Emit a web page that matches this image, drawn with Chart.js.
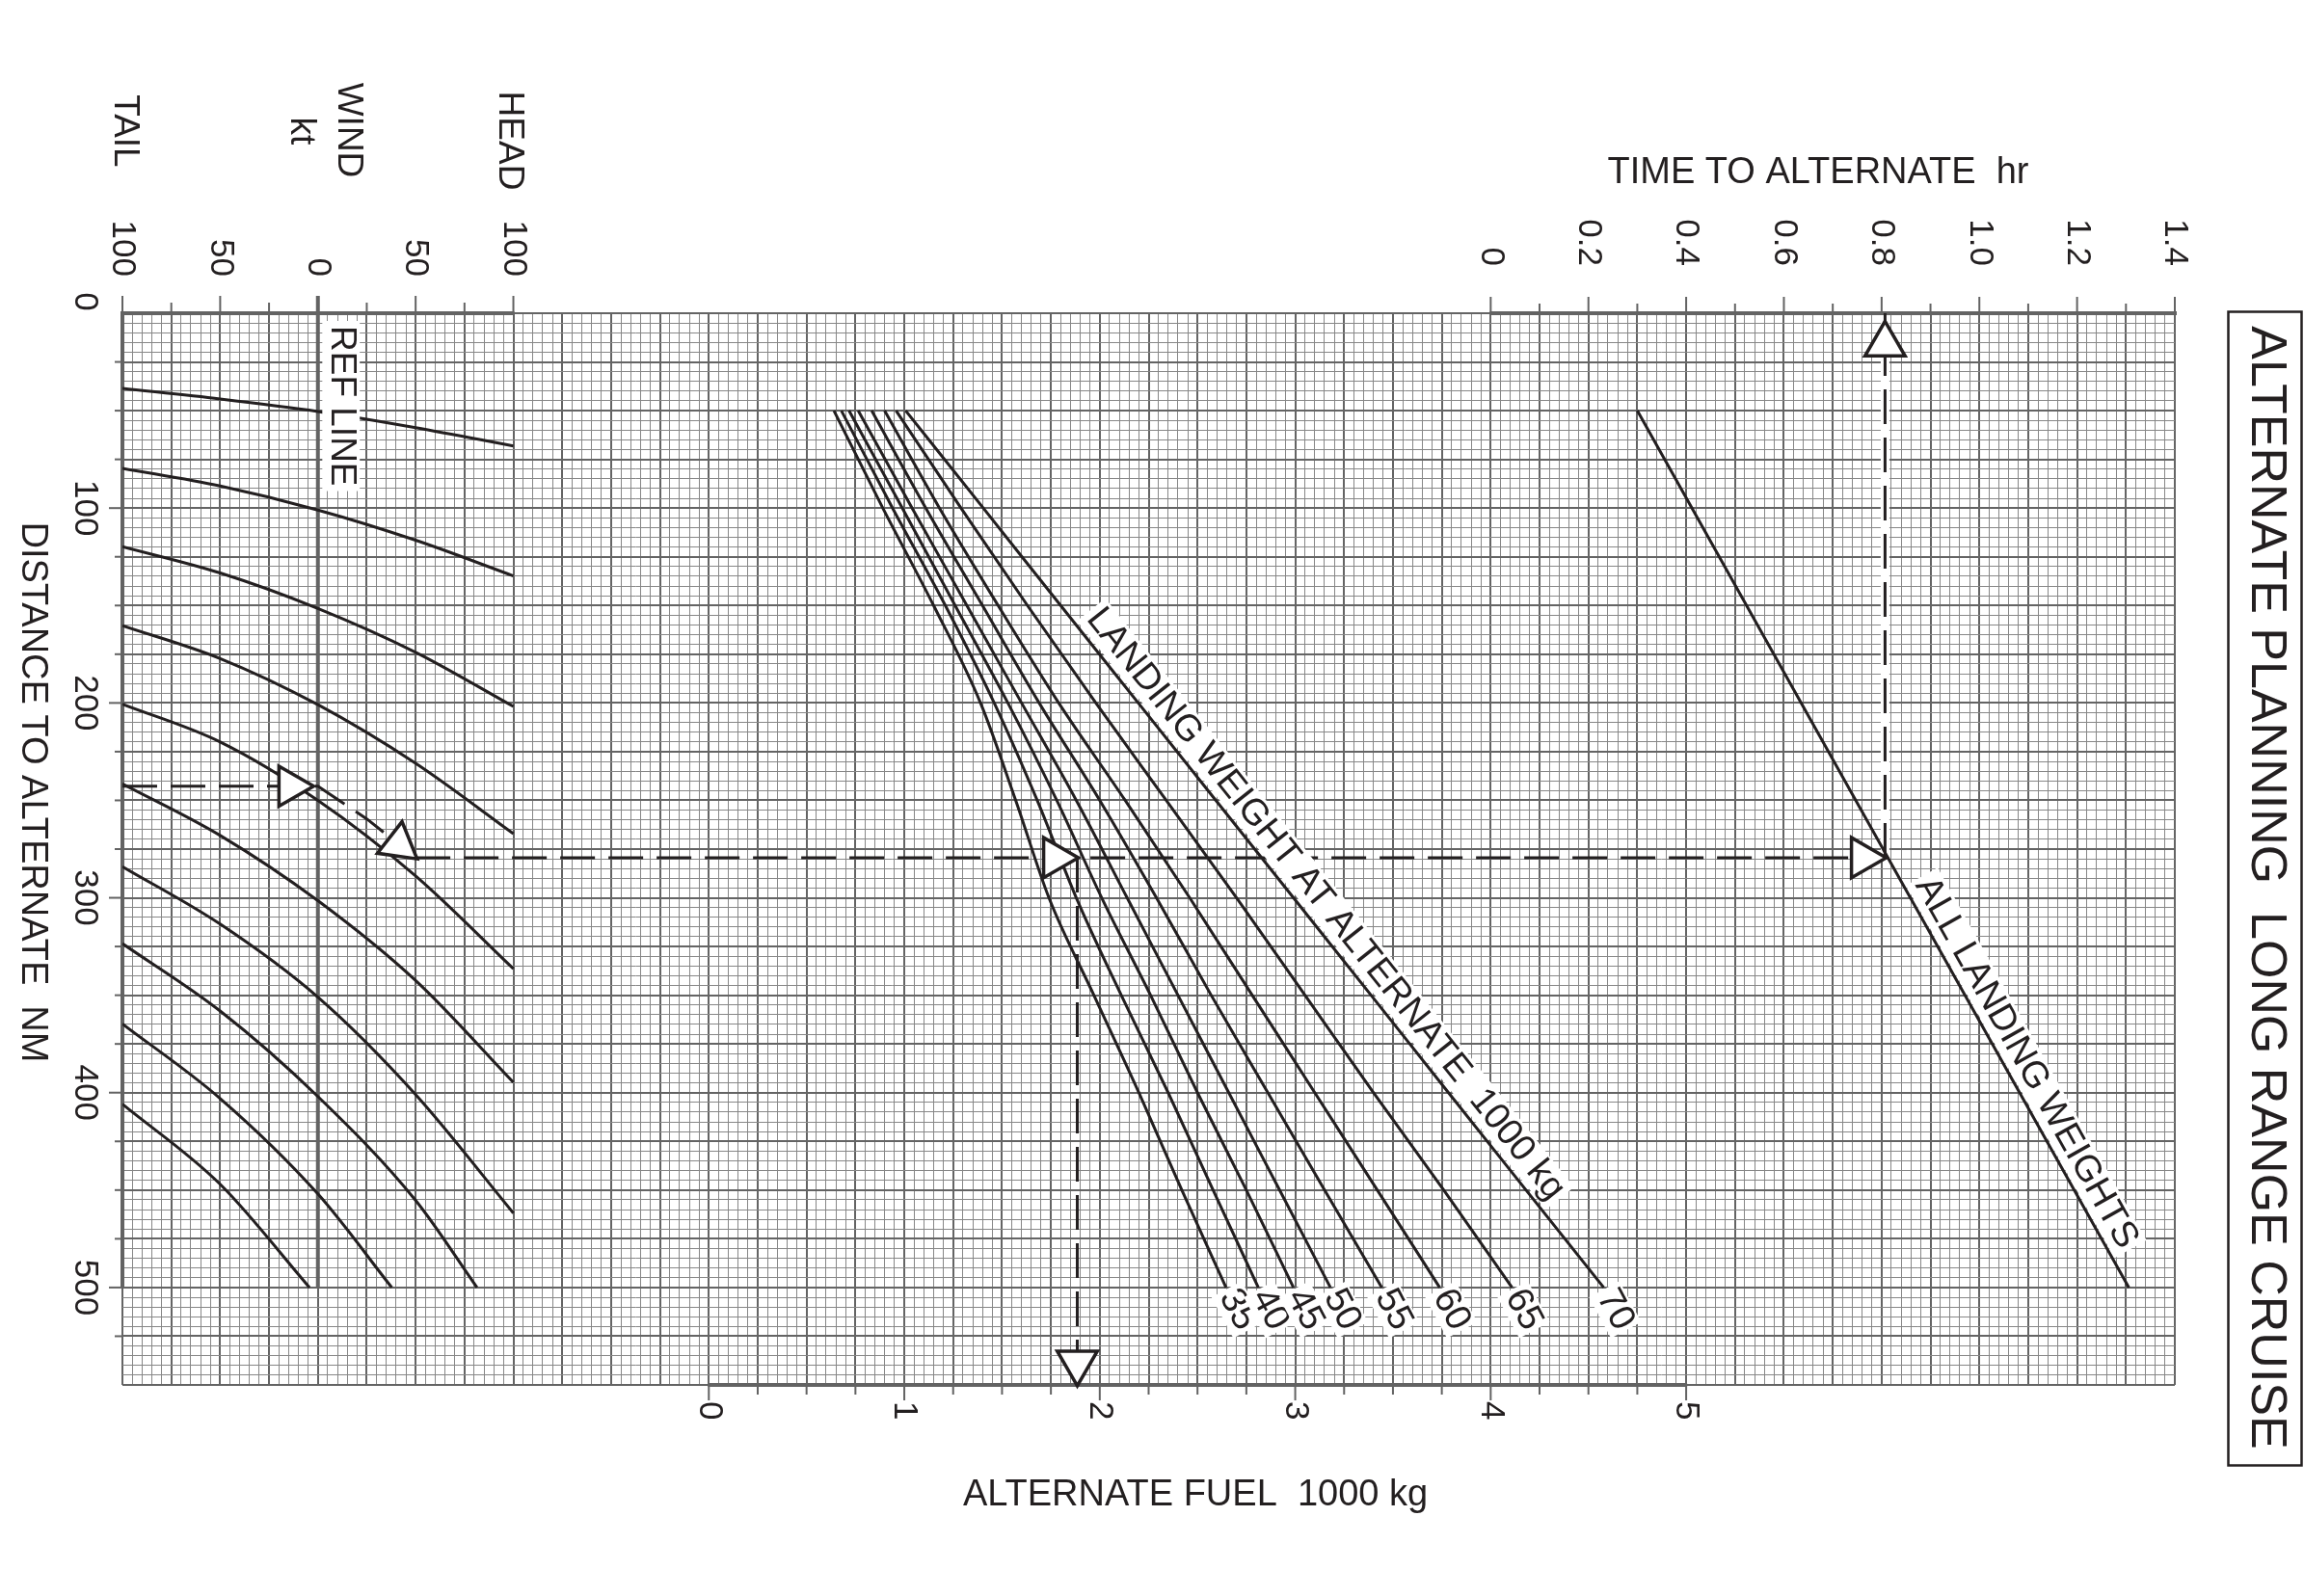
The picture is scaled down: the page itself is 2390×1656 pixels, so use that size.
<!DOCTYPE html>
<html>
<head>
<meta charset="utf-8">
<script src="https://cdn.jsdelivr.net/npm/chart.js@4.4.1/dist/chart.umd.min.js"></script>
<style>html,body{margin:0;padding:0;background:#fff}canvas{display:block}</style>
</head>
<body>
<canvas id="c" width="2390" height="1656" style="width:2390px;height:1656px"></canvas>
<script>
// ---------------- DATA ----------------
// Wind axis (kt, tail negative / head positive)
const windLabelValues = [-100, -50, 0, 50, 100];
const timeLabelValues = [0, 0.2, 0.4, 0.6, 0.8, 1.0, 1.2, 1.4];
const timeLabelTexts = ['0', '0.2', '0.4', '0.6', '0.8', '1.0', '1.2', '1.4'];
const fuelLabelValues = [0, 1, 2, 3, 4, 5];
const distanceLabelValues = [0, 100, 200, 300, 400, 500];

// Wind correction curves: wind (kt) -> distance (NM)
const windCurveWind = [
  [-100, -50, 0, 50, 100],
  [-100, -50, 0, 50, 100],
  [-100, -50, 0, 50, 100],
  [-100, -50, 0, 50, 100],
  [-100, -50, 0, 50, 100],
  [-100, -50, 0, 50, 100],
  [-100, -50, 0, 50, 100],
  [-100, -50, 0, 50, 81.4],
  [-100, -50, 0, 37.8],
  [-100, -50, -4.3]
];
const windCurveDist = [
  [38.6, 44.0, 50.4, 58.7, 68.1],
  [79.6, 88.7, 101, 116.5, 134.8],
  [119.8, 133.3, 151.5, 174, 201.8],
  [160.3, 177.2, 200.9, 231, 267.1],
  [200.6, 220, 250, 288.8, 336.4],
  [241.5, 268, 301.5, 342.5, 394.7],
  [284, 313.5, 351, 401, 461.8],
  [323.5, 358.1, 402, 455.3, 500],
  [364.7, 403, 452, 500],
  [405.9, 447, 500]
];

// Fuel curves: landing weight (1000 kg), fuel (1000 kg) at each distance (NM)
const landingWeights = [35, 40, 45, 50, 55, 60, 65, 70];
const fuelCurveDistances = [50, 100, 150, 200, 250, 300, 350, 400, 450, 500];
const fuel35 = [0.640, 0.89, 1.15, 1.39, 1.57, 1.74, 1.97, 2.20, 2.42, 2.646];
const fuel40 = [0.678, 0.94, 1.21, 1.46, 1.68, 1.88, 2.11, 2.35, 2.58, 2.811];
const fuel45 = [0.717, 0.99, 1.26, 1.53, 1.78, 2.01, 2.26, 2.50, 2.75, 2.991];
const fuel50 = [0.764, 1.04, 1.32, 1.60, 1.88, 2.14, 2.40, 2.66, 2.92, 3.180];
const fuel55 = [0.833, 1.11, 1.40, 1.69, 2.00, 2.29, 2.57, 2.86, 3.15, 3.443];
const fuel60 = [0.899, 1.18, 1.48, 1.79, 2.13, 2.46, 2.78, 3.10, 3.42, 3.739];
const fuel65 = [0.958, 1.29, 1.63, 1.98, 2.34, 2.70, 3.05, 3.40, 3.76, 4.109];
const fuel70 = [1.007, 1.404, 1.800, 2.197, 2.594, 2.991, 3.388, 3.784, 4.181, 4.578];
const fuelCurves = [fuel35, fuel40, fuel45, fuel50, fuel55, fuel60, fuel65, fuel70];

// Time to alternate (all landing weights)
const timeLineDistances = [50, 500];
const timeLineHours = [0.30, 1.306];

// Worked example
const examplePathWind = [-100, 0, 25, 50];
const examplePathDist = [242.7, 242.7, 259.5, 279.4];
const exampleWind = 50;
const exampleDistance = 279.4;
const exampleFuel = 1.885;
const exampleTime = 0.807;
const windArrowWind = [-14, 41.4];
const windArrowDist = [242.7, 272.7];
const windArrowRot = [90, 128];
const fuelArrowFuel = [1.772, 1.885];
const fuelArrowDist = [279.4, 538.6];
const fuelArrowRot = [90, 180];
const timeArrowTime = [0.762, 0.807];
const timeArrowDist = [279.4, 16];
const timeArrowRot = [90, 0];

// ---------------- STYLE ----------------
const FONT = '"Liberation Sans", Arial, Helvetica, sans-serif';
const INK = '#231f20';
const GRID_FINE = '#878787';
const GRID_MAJOR = '#646464';
const AXIS = '#636363';

function drawText(ctx, text, x, y, o) {
  const angle = o.angle || 0, align = o.align || 'center', size = o.size || 34, box = o.box || 0;
  ctx.save();
  ctx.translate(x, y);
  ctx.rotate(angle * Math.PI / 180);
  ctx.font = size + 'px ' + FONT;
  ctx.textAlign = align;
  ctx.textBaseline = 'middle';
  if (box) {
    const w = ctx.measureText(text).width;
    const x0 = align === 'center' ? -w / 2 : (align === 'right' ? -w : 0);
    const h = size * 0.78;
    ctx.fillStyle = '#fff';
    ctx.fillRect(x0 - box, -h / 2 - box, w + 2 * box, h + 2 * box);
  }
  ctx.fillStyle = INK;
  ctx.fillText(text, 0, 0);
  ctx.restore();
}

const decor = {
  id: 'decor',
  beforeDatasetsDraw(chart) {
    const ctx = chart.ctx, a = chart.chartArea, s = chart.scales;
    const W = v => s.wind.getPixelForValue(v);
    const F = v => s.fuel.getPixelForValue(v);
    const T = v => s.time.getPixelForValue(v);
    const D = v => s.y.getPixelForValue(v);
    const seg = (x1, y1, x2, y2, w, c) => {
      ctx.beginPath(); ctx.moveTo(x1, y1); ctx.lineTo(x2, y2);
      ctx.lineWidth = w; ctx.strokeStyle = c || AXIS; ctx.stroke();
    };
    ctx.save();
    ctx.lineCap = 'butt';
    // heavy axis bars
    seg(W(-100) - 2, a.top, W(100) + 1, a.top, 4);
    seg(T(0) - 1, a.top, T(1.4) + 2, a.top, 4);
    seg(F(0) - 1, a.bottom, F(5) + 1, a.bottom, 4);
    seg(a.left, D(0) - 2, a.left, D(500), 4);
    seg(W(0), a.top, W(0), D(500), 4);
    // tick marks
    for (let i = 0; i <= 8; i++) {
      const v = -100 + i * 25;
      seg(W(v), a.top, W(v), a.top - (i % 2 === 0 ? 18 : 11), v === 0 ? 4 : 2);
    }
    for (let i = 0; i <= 14; i++) {
      const v = i / 10;
      seg(T(v), a.top, T(v), a.top - (i % 2 === 0 ? 17 : 10), 2);
    }
    for (let i = 0; i <= 20; i++) {
      const v = i / 4;
      seg(F(v), a.bottom, F(v), a.bottom + (i % 4 === 0 ? 16 : 10), 2);
    }
    for (let i = 1; i <= 21; i++) {
      const v = i * 25;
      seg(a.left, D(v), a.left - (i % 4 === 0 ? 14 : 8), D(v), 2);
    }
    // tick labels
    windLabelValues.forEach(v => drawText(ctx, String(Math.abs(v)), W(v), a.top - 38, {angle: 90, align: 'right', size: 35}));
    timeLabelValues.forEach((v, i) => drawText(ctx, timeLabelTexts[i], T(v), a.top - 49, {angle: 90, align: 'right', size: 35}));
    fuelLabelValues.forEach(v => drawText(ctx, String(v), F(v), a.bottom + 17, {angle: 90, align: 'left', size: 35}));
    distanceLabelValues.forEach(v => drawText(ctx, String(v), a.left - 39, v === 0 ? D(v) - 12 : D(v), {angle: 90, size: 35}));
    // axis titles
    drawText(ctx, 'TAIL', W(-100) + 2, 136, {angle: 90, size: 37});
    drawText(ctx, 'kt', W(0) - 18, 136, {angle: 90, size: 37});
    drawText(ctx, 'WIND', W(0) + 31, 135, {angle: 90, size: 37});
    drawText(ctx, 'HEAD', W(100) - 4, 146, {angle: 90, size: 37});
    drawText(ctx, 'TIME TO ALTERNATE  hr', 1886, 180, {size: 38});
    drawText(ctx, 'ALTERNATE FUEL  1000 kg', 1240, 1552, {size: 38});
    drawText(ctx, 'DISTANCE TO ALTERNATE  NM', 33, 822, {angle: 90, size: 38});
    // chart title in a box
    ctx.lineWidth = 2.5; ctx.strokeStyle = INK;
    ctx.strokeRect(2311.5, 323.5, 76, 1197);
    drawText(ctx, 'ALTERNATE PLANNING  LONG RANGE CRUISE', 2350, 921, {angle: 90, size: 52});
    // white channel behind the vertical time guide
    seg(T(exampleTime), D(exampleDistance), T(exampleTime), D(0) + 2, 9, '#fff');
    // cross-panel example line (wind panel -> fuel -> time)
    ctx.setLineDash([36, 14]);
    seg(W(exampleWind), D(exampleDistance), T(exampleTime), D(exampleDistance), 3, INK);
    ctx.setLineDash([]);
    ctx.restore();
  },
  afterDatasetsDraw(chart) {
    const ctx = chart.ctx, s = chart.scales;
    const W = v => s.wind.getPixelForValue(v);
    const F = v => s.fuel.getPixelForValue(v);
    const T = v => s.time.getPixelForValue(v);
    const D = v => s.y.getPixelForValue(v);
    // REF LINE
    drawText(ctx, 'REF LINE', W(0) + 24, D(0) + 13, {angle: 90, align: 'left', size: 37, box: 5});
    // landing weight title along the 70 curve
    const f70 = fuelCurves[7];
    const ang70 = Math.atan2(D(fuelCurveDistances[9]) - D(fuelCurveDistances[0]), F(f70[9]) - F(f70[0]));
    const ax = F(3.07), ay = D(310);
    drawText(ctx, 'LANDING WEIGHT AT ALTERNATE  1000 kg', ax + 22 * Math.sin(ang70), ay - 22 * Math.cos(ang70), {angle: ang70 * 180 / Math.PI, size: 38, box: 4});
    // time line label
    const angT = Math.atan2(D(timeLineDistances[1]) - D(timeLineDistances[0]), T(timeLineHours[1]) - T(timeLineHours[0]));
    const tx = T(1.058), ty = D(390);
    drawText(ctx, 'ALL LANDING WEIGHTS', tx + 22 * Math.sin(angT), ty - 22 * Math.cos(angT), {angle: angT * 180 / Math.PI, size: 38, box: 4});
    // weight labels at curve ends
    landingWeights.forEach((wt, i) => {
      const c = fuelCurves[i];
      drawText(ctx, String(wt), F(c[c.length - 1]) + 12, D(fuelCurveDistances[fuelCurveDistances.length - 1]) + 23, {angle: 62, size: 38, box: 3});
    });
  }
};

// ---------------- DATASETS ----------------
const datasets = [];
const arrowStyle = {showLine: false, pointStyle: 'triangle', pointRadius: 24, pointBackgroundColor: '#fff', pointBorderColor: INK, pointBorderWidth: 3.5, clip: false};
datasets.push(Object.assign({xAxisID: 'wind', yAxisID: 'y', data: windArrowWind.map((w, i) => ({x: w, y: windArrowDist[i]})), pointRotation: windArrowRot}, arrowStyle));
datasets.push(Object.assign({xAxisID: 'fuel', yAxisID: 'y', data: fuelArrowFuel.map((f, i) => ({x: f, y: fuelArrowDist[i]})), pointRotation: fuelArrowRot}, arrowStyle));
datasets.push(Object.assign({xAxisID: 'time', yAxisID: 'y', data: timeArrowTime.map((t, i) => ({x: t, y: timeArrowDist[i]})), pointRotation: timeArrowRot}, arrowStyle));

const dashStyle = {showLine: true, borderColor: INK, borderWidth: 3, borderDash: [36, 14], pointRadius: 0, tension: 0};
datasets.push(Object.assign({xAxisID: 'wind', yAxisID: 'y', data: examplePathWind.map((w, i) => ({x: w, y: examplePathDist[i]}))}, dashStyle));
datasets.push(Object.assign({xAxisID: 'fuel', yAxisID: 'y', data: [{x: exampleFuel, y: exampleDistance}, {x: exampleFuel, y: 550}]}, dashStyle));
datasets.push(Object.assign({xAxisID: 'time', yAxisID: 'y', data: [{x: exampleTime, y: exampleDistance}, {x: exampleTime, y: 0}]}, dashStyle));

const curveStyle = {showLine: true, borderColor: INK, borderWidth: 3, pointRadius: 0, cubicInterpolationMode: 'monotone'};
windCurveWind.forEach((ws, i) => {
  datasets.push(Object.assign({xAxisID: 'wind', yAxisID: 'y', data: ws.map((w, j) => ({x: w, y: windCurveDist[i][j]}))}, curveStyle));
});
fuelCurves.forEach(fs => {
  datasets.push(Object.assign({xAxisID: 'fuel', yAxisID: 'y', data: fs.map((f, j) => ({x: f, y: fuelCurveDistances[j]}))}, curveStyle));
});
datasets.push(Object.assign({xAxisID: 'time', yAxisID: 'y', data: timeLineHours.map((t, j) => ({x: t, y: timeLineDistances[j]}))}, curveStyle));

// ---------------- CHART ----------------
new Chart(document.getElementById('c'), {
  type: 'scatter',
  data: {datasets},
  options: {
    responsive: false,
    animation: false,
    devicePixelRatio: 1,
    events: [],
    layout: {padding: {left: 127, top: 325, right: 134, bottom: 219}},
    plugins: {legend: {display: false}, tooltip: {enabled: false}},
    scales: {
      gx: {
        type: 'linear', axis: 'x', position: 'bottom', min: 0, max: 210,
        ticks: {display: false, stepSize: 1},
        grid: {
          drawTicks: false,
          color: c => (Math.round(c.tick.value) % 5 === 0 ? GRID_MAJOR : GRID_FINE),
          lineWidth: c => (Math.round(c.tick.value) % 5 === 0 ? 2 : 1)
        },
        border: {display: false}
      },
      y: {
        type: 'linear', axis: 'y', position: 'left', reverse: true, min: 0, max: 550,
        ticks: {display: false, stepSize: 5},
        grid: {
          drawTicks: false,
          color: c => (Math.round(c.tick.value) % 25 === 0 ? GRID_MAJOR : GRID_FINE),
          lineWidth: c => (Math.round(c.tick.value) % 25 === 0 ? 2 : 1)
        },
        border: {display: false}
      },
      wind: {type: 'linear', axis: 'x', position: 'top', display: false, min: -100, max: 950},
      fuel: {type: 'linear', axis: 'x', position: 'bottom', display: false, min: -3, max: 7.5},
      time: {type: 'linear', axis: 'x', position: 'top', display: false, min: -2.8, max: 1.4}
    }
  },
  plugins: [decor]
});
</script>
</body>
</html>
